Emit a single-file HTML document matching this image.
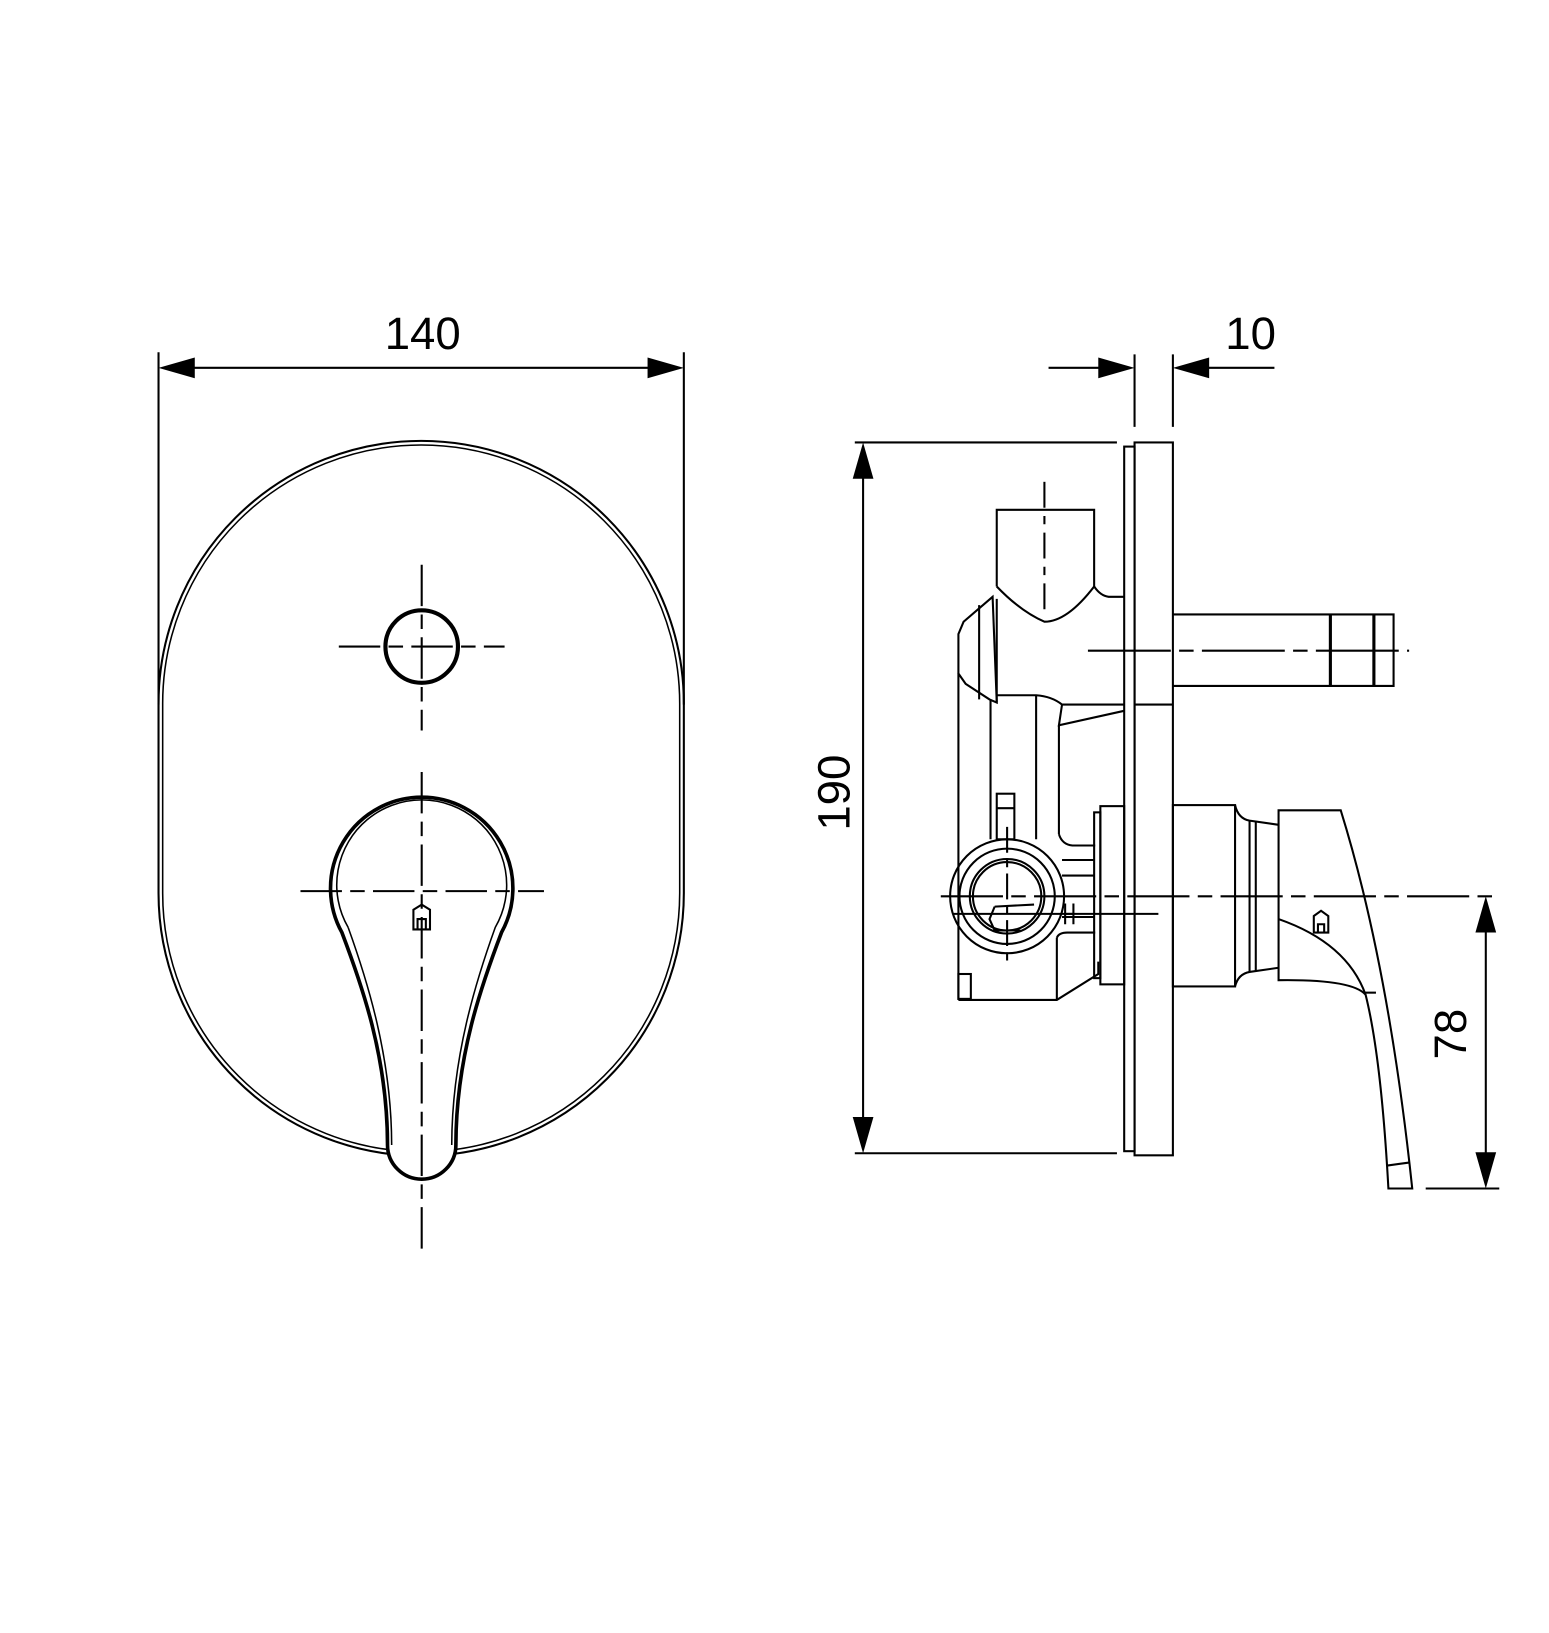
<!DOCTYPE html>
<html><head><meta charset="utf-8"><style>
html,body{margin:0;padding:0;background:#fff;}
svg{display:block;}
text{font-family:"Liberation Sans",Arial,sans-serif;fill:#000;}
</style></head><body>
<svg width="1549" height="1633" viewBox="0 0 1495 1576" preserveAspectRatio="none" xmlns="http://www.w3.org/2000/svg">
<g fill="none" stroke="#000" stroke-width="2">
<!-- ===== LEFT VIEW ===== -->
<!-- 140 dimension -->
<line x1="153" y1="340" x2="153" y2="680"/>
<line x1="660" y1="340" x2="660" y2="680"/>
<line x1="160" y1="355" x2="653" y2="355"/>
<!-- plate oval -->
<path d="M153,679 A253.5,253.5 0 0 1 660,679 L660,862 A253.5,253.5 0 0 1 153,862 Z"/>
<path d="M157,679 A249.5,249.5 0 0 1 656,679 L656,862 A249.5,249.5 0 0 1 157,862 Z" stroke-width="1.5"/>
<!-- small circle -->
<circle cx="407" cy="624" r="35" stroke-width="4"/>
<line x1="327" y1="624" x2="487" y2="624" stroke-dasharray="40,8,14,8"/>
<line x1="407" y1="545" x2="407" y2="705" stroke-dasharray="40,8,14,8"/>
<!-- handle -->
<path d="M330,900 A88,88 0 1 1 484,900 C465,950 440,1020 440,1105 A33,33 0 0 1 374,1105 C374,1020 349,950 330,900 Z" fill="#fff" stroke-width="3.5"/>
<path d="M336,895 A82,82 0 1 1 478,895 C460,945 436,1020 436,1105" stroke-width="1.5"/>
<path d="M336,895 C354,945 378,1020 378,1105" stroke-width="1.5"/>
<line x1="407" y1="745" x2="407" y2="1205" stroke-dasharray="40,8,14,8"/>
<line x1="290" y1="860" x2="525" y2="860" stroke-dasharray="40,8,14,8"/>
<path d="M399,878 L407,873 L415,878 L415,897 L399,897 Z M403,897 L403,887 L411,887 L411,897" stroke-width="2"/>

<!-- ===== RIGHT VIEW ===== -->
<!-- 10 dimension -->
<line x1="1095" y1="342" x2="1095" y2="412"/>
<line x1="1132" y1="342" x2="1132" y2="412"/>
<line x1="1012" y1="355" x2="1090" y2="355"/>
<line x1="1137" y1="355" x2="1230" y2="355"/>
<!-- 190 dimension -->
<line x1="825" y1="427" x2="1078" y2="427"/>
<line x1="825" y1="1113" x2="1078" y2="1113"/>
<line x1="833" y1="432" x2="833" y2="1108"/>
<!-- plate -->
<rect x="1095" y="427" width="37" height="688"/>
<rect x="1085" y="431" width="10" height="680"/>
<line x1="1095" y1="680" x2="1132" y2="680"/>
<!-- top tube -->
<path d="M962,566 L962,492 L1056,492 L1056,566"/>
<path d="M962,566 Q985,590 1008,600 Q1030,600 1056,566 Q1062,575 1070,576 L1085,576"/>
<path d="M958,576 L930,600 L925,612 L925,650 L932,660 L955,675 L962,678 Z"/>
<line x1="945" y1="584" x2="945" y2="675"/>
<line x1="962" y1="578" x2="962" y2="678"/>
<line x1="1008" y1="465" x2="1008" y2="595" stroke-dasharray="25,8,8,8"/>
<path d="M962,671 L1000,671 Q1015,672 1025,680 L1085,680"/>
<path d="M1025,680 L1022,700 L1085,686"/>
<!-- body verticals -->
<line x1="925" y1="650" x2="925" y2="965"/>
<line x1="956" y1="676" x2="956" y2="810"/>
<line x1="1000" y1="671" x2="1000" y2="810"/>
<line x1="1022" y1="700" x2="1022" y2="805"/>
<path d="M1022,805 Q1025,815 1035,816 L1057,816"/>
<!-- lower left body -->
<path d="M925,965 L1020,965 L1060,940 L1060,928"/>
<rect x="925" y="940" width="12" height="24"/>
<line x1="1020" y1="965" x2="1020" y2="905"/>
<path d="M1020,905 Q1022,900 1030,900 L1057,900"/>
<rect x="1062" y="778" width="23" height="172"/>
<rect x="1056" y="784" width="6" height="160"/>
<line x1="1025" y1="830" x2="1056" y2="830"/>
<line x1="1025" y1="845" x2="1056" y2="845"/>
<line x1="1025" y1="885" x2="1056" y2="885"/>
<!-- cartridge circle -->
<circle cx="972" cy="865" r="55"/>
<circle cx="972" cy="865" r="46"/>
<circle cx="972" cy="865" r="36"/>
<circle cx="972" cy="865" r="33"/>
<rect x="962" y="766" width="17" height="44"/>
<line x1="962" y1="780" x2="979" y2="780"/>
<path d="M960,875 L998,873 M960,875 L955,887 L960,898 L985,898"/>
<line x1="972" y1="798" x2="972" y2="932" stroke-dasharray="25,6,8,6"/>
<path d="M1028,872 L1028,892 M1036,872 L1036,892 M1028,882 L1036,882"/>
<line x1="920" y1="882" x2="1118" y2="882"/>
<!-- right cylinder -->
<rect x="1132" y="777" width="60" height="175"/>
<path d="M1192,777 Q1195,790 1206,792 L1234,796 M1192,952 Q1195,940 1206,938 L1234,934"/>
<line x1="1206" y1="792" x2="1206" y2="938"/>
<line x1="1212" y1="793" x2="1212" y2="937"/>
<!-- handle side -->
<path d="M1234,782 L1294,782 Q1340,930 1363,1147 L1340,1147 Q1333,1020 1318,960 Q1305,945 1234,946 Z"/>
<path d="M1234,887 Q1300,910 1318,960" />
<line x1="1316" y1="958" x2="1328" y2="958"/>
<line x1="1338" y1="1125" x2="1360" y2="1122"/>
<path d="M1268,884 L1275,879 L1282,884 L1282,900 L1268,900 Z M1272,900 L1272,892 L1278,892 L1278,900" fill="#fff"/>
<!-- centerline & 78 -->
<line x1="908" y1="865" x2="1447" y2="865" stroke-dasharray="60,8,14,8"/>
<line x1="1376" y1="1147" x2="1447" y2="1147"/>
<line x1="1434" y1="870" x2="1434" y2="1142"/>
<!-- stem -->
<path d="M1132,593 L1345,593 L1345,662 L1132,662"/>
<line x1="1284" y1="593" x2="1284" y2="662" stroke-width="3"/>
<line x1="1326" y1="593" x2="1326" y2="662" stroke-width="3"/>
<line x1="1050" y1="628" x2="1360" y2="628" stroke-dasharray="80,8,14,8"/>
</g>
<g fill="#000">
<path d="M153,355 L188,345 L188,365 Z"/>
<path d="M660,355 L625,345 L625,365 Z"/>
<path d="M1095,355 L1060,345 L1060,365 Z"/>
<path d="M1132,355 L1167,345 L1167,365 Z"/>
<path d="M833,427 L823,462 L843,462 Z"/>
<path d="M833,1113 L823,1078 L843,1078 Z"/>
<path d="M1434,865 L1424,900 L1444,900 Z"/>
<path d="M1434,1147 L1424,1112 L1444,1112 Z"/>
</g>
<text x="408" y="337" font-size="44" text-anchor="middle">140</text>
<text x="1207" y="337" font-size="44" text-anchor="middle">10</text>
<text x="0" y="0" font-size="44" text-anchor="middle" transform="translate(820,765) rotate(-90)">190</text>
<text x="0" y="0" font-size="44" text-anchor="middle" transform="translate(1415,998) rotate(-90)">78</text>
</svg>
</body></html>
